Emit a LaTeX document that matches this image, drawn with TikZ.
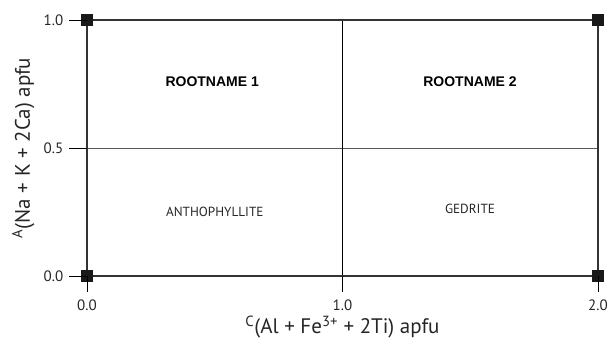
\documentclass[tikz,border=0pt]{standalone}
\usepackage{fontspec}
\setmainfont{PT Sans}
\newfontfamily\rootfont{Liberation Sans}
\tikzset{
  ticklbl/.style={font=\fontsize{15}{17}\selectfont, inner sep=0pt, text=black!85},
  axislbl/.style={font=\fontsize{21}{24}\selectfont, inner sep=0pt, text=black!85},
  rootlbl/.style={font=\rootfont\bfseries\fontsize{14}{16}\selectfont},
  namelbl/.style={font=\fontsize{13.2}{15}\selectfont, text=black!85},
}
\begin{document}
\begin{tikzpicture}[x=255.5pt,y=256pt]
\useasboundingbox (-0.3405,-0.254) rectangle (2.043,1.078);
% field boundaries
\draw[line width=0.8pt,black!65] (0,0.5)--(2,0.5);
\draw[line width=0.6pt] (1,0)--(1,1);
\draw[line width=2.4pt,black!80] (0,0) rectangle (2,1);
% corner markers
\foreach \cx/\cy in {0/0,2/0,0/1,2/1}
  \fill[black!90] (\cx,\cy) +(-6pt,-6pt) rectangle +(6pt,6pt);
% y ticks
\foreach \ty in {0.0,0.5,1.0} {
  \draw[line width=0.8pt] (-0.07,\ty)--(0,\ty);
  \node[ticklbl,anchor=east] (y\ty) at (-0.092,\ty) {\ty};
}
% x ticks
\foreach \tx in {0.0,1.0,2.0} {
  \draw[line width=0.8pt] (\tx,0)--(\tx,-0.0625);
  \node[ticklbl] (x\tx) at (\tx,-0.113) {\tx};
}
% axis titles
\node[axislbl,anchor=base] (xtitle) at (1,-0.226) {\textsuperscript{C}(Al + Fe\textsuperscript{3+} + 2Ti) apfu};
\node[axislbl,rotate=90] (ytitle) at (-0.25,0.5) {\textsuperscript{A}(Na + K + 2Ca) apfu};
% field names
\node[rootlbl] (root1) at (0.49,0.758) {ROOTNAME 1};
\node[rootlbl] (root2) at (1.499,0.758) {ROOTNAME 2};
\node[namelbl] (antho) at (0.5,0.25) {ANTHOPHYLLITE};
\node[namelbl] (gedr) at (1.499,0.262) {GEDRITE};
\end{tikzpicture}
\end{document}
